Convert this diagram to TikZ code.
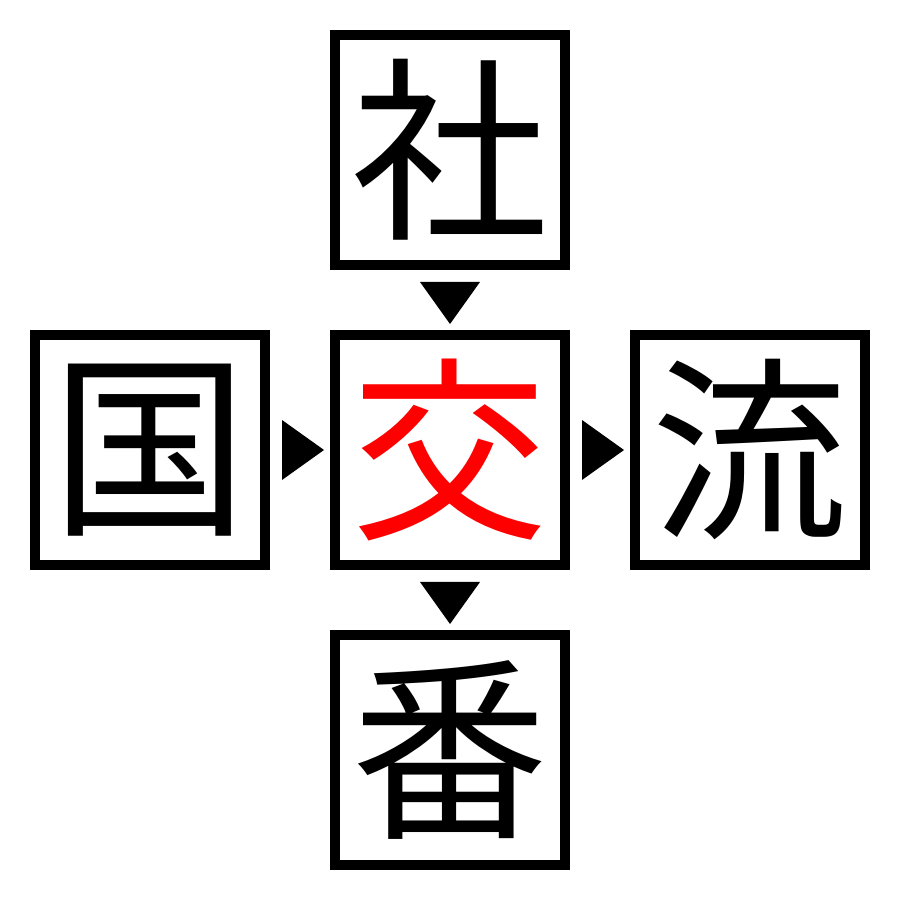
\documentclass[tikz,border=0pt]{standalone}
\usepackage{xcolor}
\usepackage{fontspec}
\newfontfamily\cjk{Noto Sans CJK JP}
\usepackage{tikz}
\usetikzlibrary{positioning,calc}

\begin{document}
\begin{tikzpicture}[
		kbox/.style={draw, line width=0.2cm, minimum size=4.6cm, inner sep=0pt, font=\cjk\fontsize{112}{112}\selectfont},
		tri/.style={fill=black, draw=none}
		]
		
		% ==========================================
		% KHUNG CHỮ
		% ==========================================
		\useasboundingbox (0,0) rectangle (18,18);
		
		\node[kbox, text=red] (ctr) at (9,9) {交};
		\node[kbox, above=1.2cm of ctr] (top) {社};
		\node[kbox, left=1.2cm of ctr] (lft) {国};
		\node[kbox, right=1.2cm of ctr] (rgt) {流};
		\node[kbox, below=1.2cm of ctr] (bot) {番};
		
		% ==========================================
		% TAM GIÁC
		% ==========================================
		% -- tren -> giua --
		\fill[tri] ($(top.south)+(-0.6,-0.24)$) -- ++(1.2,0) -- ($(top.south)+(0,-1.08)$) -- cycle;
		% -- giua -> duoi --
		\fill[tri] ($(ctr.south)+(-0.6,-0.24)$) -- ++(1.2,0) -- ($(ctr.south)+(0,-1.08)$) -- cycle;
		% -- trai -> giua --
		\fill[tri] ($(lft.east)+(0.24,0.6)$) -- ++(0,-1.2) -- ($(lft.east)+(1.08,0)$) -- cycle;
		% -- giua -> phai --
		\fill[tri] ($(ctr.east)+(0.24,0.6)$) -- ++(0,-1.2) -- ($(ctr.east)+(1.08,0)$) -- cycle;
		
	\end{tikzpicture}
\end{document}
